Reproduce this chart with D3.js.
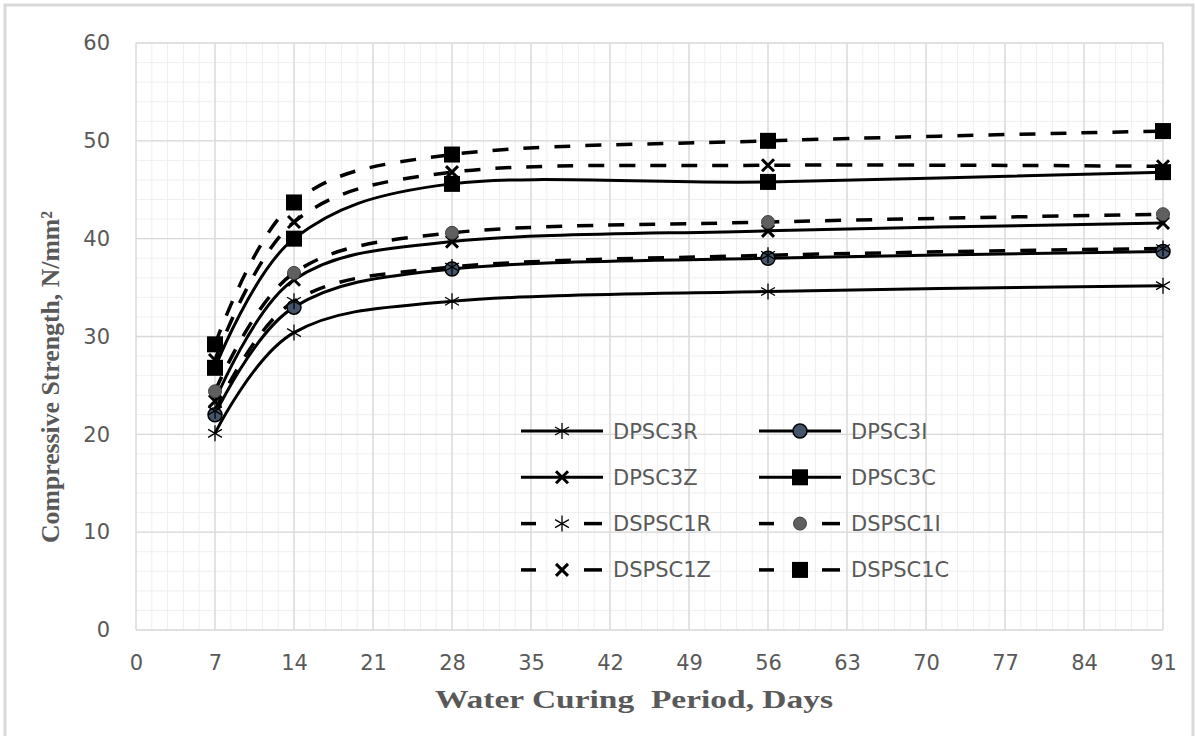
<!DOCTYPE html>
<html>
<head>
<meta charset="utf-8">
<script src="https://cdn.jsdelivr.net/npm/d3@7"></script>
<style>
  body { margin: 0; background: #fff; }
</style>
</head>
<body>
<svg id="chart" width="1196" height="736"></svg>
<script>
// curing days and strengths
var days = [7, 14, 28, 56, 91];
var DPSC3R = [20.1, 30.4, 33.6, 34.6, 35.2];
var DPSC3I = [22.0, 33.0, 36.9, 38.0, 38.7];
var DPSC3Z = [23.4, 35.8, 39.7, 40.8, 41.6];
var DPSC3C = [26.8, 40.0, 45.6, 45.8, 46.8];
var DSPSC1R = [22.4, 33.6, 37.1, 38.3, 39.0];
var DSPSC1I = [24.4, 36.5, 40.6, 41.7, 42.5];
var DSPSC1Z = [27.6, 41.7, 46.8, 47.5, 47.4];
var DSPSC1C = [29.2, 43.7, 48.6, 50.0, 51.0];

var xTicks = [0, 7, 14, 21, 28, 35, 42, 49, 56, 63, 70, 77, 84, 91];
var yTicks = [0, 10, 20, 30, 40, 50, 60];

var series = [
  { name: "DPSC3R", values: DPSC3R, dashed: false, marker: "star" },
  { name: "DPSC3I", values: DPSC3I, dashed: false, marker: "circleBlue" },
  { name: "DPSC3Z", values: DPSC3Z, dashed: false, marker: "cross" },
  { name: "DPSC3C", values: DPSC3C, dashed: false, marker: "square" },
  { name: "DSPSC1R", values: DSPSC1R, dashed: true, marker: "star" },
  { name: "DSPSC1I", values: DSPSC1I, dashed: true, marker: "circleGray" },
  { name: "DSPSC1Z", values: DSPSC1Z, dashed: true, marker: "cross" },
  { name: "DSPSC1C", values: DSPSC1C, dashed: true, marker: "square" },
];

var svg = d3.select("#chart"),
  pLeft = 136,
  pTop = 43,
  pRight = 1163,
  pBottom = 630;

var xScale = d3.scaleLinear().domain([0, 91]).range([pLeft, pRight]),
  yScale = d3.scaleLinear().domain([0, 60]).range([pBottom, pTop]);

// outer frame
svg
  .append("rect")
  .attr("x", 5)
  .attr("y", 5)
  .attr("width", 1188)
  .attr("height", 760)
  .attr("fill", "none")
  .attr("stroke", "#d9d9d9")
  .attr("stroke-width", 3);

// minor grid
var grid = svg.append("g");
grid
  .selectAll(".vminor")
  .data(d3.range(0, 91.01, 1.4))
  .enter()
  .append("line")
  .attr("x1", (d) => xScale(d))
  .attr("x2", (d) => xScale(d))
  .attr("y1", pTop)
  .attr("y2", pBottom)
  .attr("stroke", "#efefef")
  .attr("stroke-width", 1);
grid
  .selectAll(".hminor")
  .data(d3.range(0, 60.01, 2))
  .enter()
  .append("line")
  .attr("x1", pLeft)
  .attr("x2", pRight)
  .attr("y1", (d) => yScale(d))
  .attr("y2", (d) => yScale(d))
  .attr("stroke", "#efefef")
  .attr("stroke-width", 1);
// major grid
grid
  .selectAll(".vmajor")
  .data(xTicks)
  .enter()
  .append("line")
  .attr("x1", (d) => xScale(d))
  .attr("x2", (d) => xScale(d))
  .attr("y1", pTop)
  .attr("y2", pBottom)
  .attr("stroke", "#d9d9d9")
  .attr("stroke-width", 1.3);
grid
  .selectAll(".hmajor")
  .data(yTicks)
  .enter()
  .append("line")
  .attr("x1", pLeft)
  .attr("x2", pRight)
  .attr("y1", (d) => yScale(d))
  .attr("y2", (d) => yScale(d))
  .attr("stroke", "#d9d9d9")
  .attr("stroke-width", 1.3);

// axes (labels only)
var xAxis = svg
  .append("g")
  .attr("transform", "translate(0," + pBottom + ")")
  .call(d3.axisBottom(xScale).tickValues(xTicks).tickSize(0).tickPadding(25));
var yAxis = svg
  .append("g")
  .attr("transform", "translate(" + pLeft + ",0)")
  .call(d3.axisLeft(yScale).tickValues(yTicks).tickSize(0).tickPadding(26));
[xAxis, yAxis].forEach(function (a) {
  a.select(".domain").remove();
  a.selectAll("text")
    .style("font-family", "DejaVu Sans")
    .style("font-size", "21px")
    .attr("fill", "#595959");
});

svg
  .append("text")
  .attr("x", 634)
  .attr("y", 708)
  .attr("text-anchor", "middle")
  .attr("textLength", 398)
  .attr("lengthAdjust", "spacingAndGlyphs")
  .style("font-family", "Liberation Serif")
  .style("font-weight", "bold")
  .style("font-size", "25px")
  .style("white-space", "pre")
  .attr("fill", "#595959")
  .text("Water Curing  Period, Days");

svg
  .append("text")
  .attr("text-anchor", "middle")
  .attr("transform", "translate(59,377)rotate(-90)")
  .attr("textLength", 332)
  .attr("lengthAdjust", "spacingAndGlyphs")
  .style("font-family", "Liberation Serif")
  .style("font-weight", "bold")
  .style("font-size", "26px")
  .attr("fill", "#595959")
  .text("Compressive Strength, N/mm²");

// marker drawing
function drawMarker(sel, type) {
  if (type == "star") {
    [0, 60, 120].forEach(function (a) {
      sel
        .append("line")
        .attr("x1", 0)
        .attr("y1", -8)
        .attr("x2", 0)
        .attr("y2", 8)
        .attr("transform", "rotate(" + a + ")")
        .attr("stroke", "#000")
        .attr("stroke-width", 1.3);
    });
  } else if (type == "cross") {
    sel
      .append("path")
      .attr("d", "M-6,-6L6,6M-6,6L6,-6")
      .attr("stroke", "#000")
      .attr("stroke-width", 3);
  } else if (type == "square") {
    sel
      .append("rect")
      .attr("x", -8)
      .attr("y", -8)
      .attr("width", 16)
      .attr("height", 16)
      .attr("fill", "#000");
  } else if (type == "circleBlue") {
    sel
      .append("circle")
      .attr("r", 7)
      .attr("fill", "#44546a")
      .attr("stroke", "#000")
      .attr("stroke-width", 1.5);
  } else if (type == "circleGray") {
    sel
      .append("circle")
      .attr("r", 6.5)
      .attr("fill", "#5f5f5f")
      .attr("stroke", "#404040")
      .attr("stroke-width", 1);
  }
}

var line = d3
  .line()
  .x((d) => xScale(d[0]))
  .y((d) => yScale(d[1]))
  .curve(d3.curveCardinal.tension(0));

series.forEach(function (s) {
  var pts = days.map((d, i) => [d, s.values[i]]);
  svg
    .append("path")
    .datum(pts)
    .attr("d", line)
    .attr("fill", "none")
    .attr("stroke", "#000")
    .attr("stroke-width", s.dashed ? 3.5 : 3)
    .attr("stroke-dasharray", s.dashed ? "16,15" : null);
});

series.forEach(function (s) {
  days.forEach(function (d, i) {
    var m = svg
      .append("g")
      .attr("transform", "translate(" + xScale(d) + "," + yScale(s.values[i]) + ")");
    drawMarker(m, s.marker);
  });
});

// legend inside plot
var legend = svg.append("g");
series.forEach(function (s, i) {
  var col = i % 2,
    row = Math.floor(i / 2);
  var lx = 521 + col * 238,
    ly = 431 + row * 46.3;
  var g = legend.append("g").attr("transform", "translate(" + lx + "," + ly + ")");
  if (s.dashed) {
    g.append("line").attr("x1", 0).attr("x2", 15).attr("y1", 0).attr("y2", 0)
      .attr("stroke", "#000").attr("stroke-width", 3.5);
    g.append("line").attr("x1", 63).attr("x2", 81).attr("y1", 0).attr("y2", 0)
      .attr("stroke", "#000").attr("stroke-width", 3.5);
  } else {
    g.append("line").attr("x1", 0).attr("x2", 82).attr("y1", 0).attr("y2", 0)
      .attr("stroke", "#000").attr("stroke-width", 3);
  }
  drawMarker(g.append("g").attr("transform", "translate(41,0)"), s.marker);
  g.append("text")
    .attr("x", 92)
    .attr("y", 7.5)
    .style("font-family", "DejaVu Sans")
    .style("font-size", "21px")
    .attr("fill", "#595959")
    .text(s.name);
});
</script>
</body>
</html>
